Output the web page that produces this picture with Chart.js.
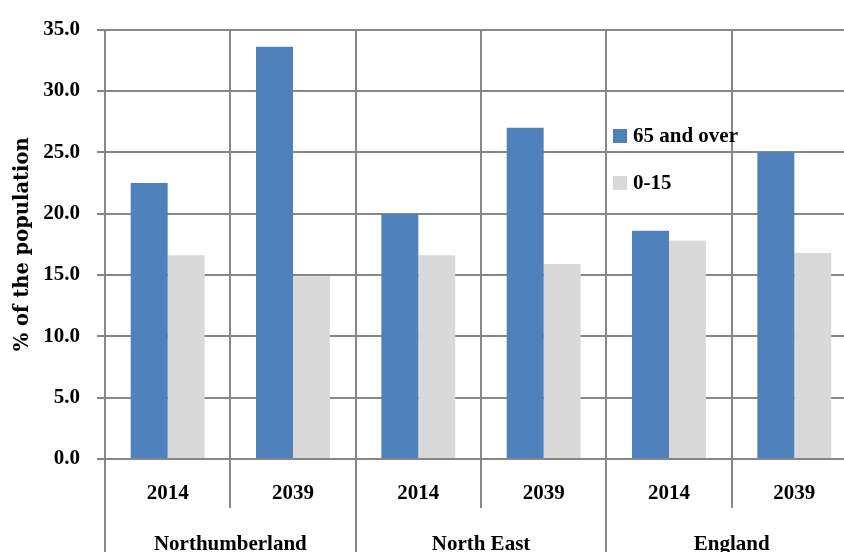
<!DOCTYPE html>
<html>
<head>
<meta charset="utf-8">
<script src="https://cdn.jsdelivr.net/npm/chart.js@4/dist/chart.umd.min.js"></script>
<style>
  html, body { margin: 0; padding: 0; overflow: hidden; width: 844px; height: 552px; background: #fff; }
  #wrap { position: absolute; left: 0; top: 0; width: 880px; height: 572px; }
</style>
</head>
<body>
<div id="wrap"><canvas id="c" width="880" height="572"></canvas></div>
<script>
const years = ['2014', '2039', '2014', '2039', '2014', '2039'];
const areas = ['Northumberland', 'North East', 'England'];
const over65 = [22.5, 33.6, 20.0, 27.0, 18.6, 25.0];
const age0to15 = [16.6, 14.9, 16.6, 15.9, 17.8, 16.8];
const seriesNames = ['65 and over', '0-15'];
const yTicks = { min: 0, max: 35, step: 5 };

const GRID = '#878787';
const LABEL_FONT = { family: "'Liberation Serif', 'Times New Roman', serif", size: 21, weight: 'bold' };

const legendPlugin = {
  id: 'insideLegend',
  afterDraw(chart) {
    const ctx = chart.ctx;
    const items = [{ x: 613, y: 136 }, { x: 613, y: 183 }];
    ctx.save();
    chart.data.datasets.forEach((ds, i) => {
      const p = items[i];
      ctx.fillStyle = ds.backgroundColor;
      ctx.fillRect(p.x, p.y - 7, 14, 14);
      ctx.fillStyle = '#000';
      ctx.font = "bold 21px 'Liberation Serif', serif";
      ctx.textBaseline = 'middle';
      ctx.textAlign = 'left';
      ctx.fillText(ds.label, p.x + 20, p.y + 1);
    });
    ctx.restore();
  }
};

new Chart(document.getElementById('c'), {
  type: 'bar',
  data: {
    labels: years,
    datasets: [
      { label: seriesNames[0], data: over65, backgroundColor: '#4F81BD', categoryPercentage: 0.59, barPercentage: 1.0 },
      { label: seriesNames[1], data: age0to15, backgroundColor: '#D9D9D9', categoryPercentage: 0.59, barPercentage: 1.0 }
    ]
  },
  options: {
    responsive: false,
    animation: false,
    devicePixelRatio: 1,
    layout: { padding: { left: 0, top: 29, right: 23, bottom: 0 } },
    plugins: { legend: { display: false }, tooltip: { enabled: false } },
    scales: {
      x: {
        type: 'category',
        position: 'bottom',
        offset: true,
        grid: { offset: true, color: GRID, lineWidth: 2, tickLength: 49, drawOnChartArea: true },
        border: { display: true, color: GRID, width: 2 },
        ticks: { color: '#000', font: LABEL_FONT, padding: -27, maxRotation: 0, autoSkip: false },
        afterFit(scale) { scale.height = 49; }
      },
      x2: {
        type: 'category',
        position: 'bottom',
        labels: areas,
        offset: true,
        grid: { offset: true, color: GRID, lineWidth: 2, tickLength: 70, drawOnChartArea: false },
        border: { display: false },
        ticks: { color: '#000', font: LABEL_FONT, padding: -46, maxRotation: 0, autoSkip: false },
        afterFit(scale) { scale.height = 64; }
      },
      y: {
        min: yTicks.min,
        max: yTicks.max,
        ticks: {
          stepSize: yTicks.step,
          color: '#000',
          font: LABEL_FONT,
          padding: 17,
          callback: (v) => Number(v).toFixed(1)
        },
        grid: { color: GRID, lineWidth: 2, tickLength: 8 },
        border: { display: true, color: GRID, width: 2 },
        title: {
          display: true,
          text: '% of the population',
          color: '#000',
          font: { family: "'DejaVu Serif', serif", size: 19.5, weight: 'bold' },
          padding: { top: 11, bottom: 0 }
        },
        afterFit(scale) { scale.width = 105; }
      }
    }
  },
  plugins: [legendPlugin]
});
</script>
</body>
</html>
